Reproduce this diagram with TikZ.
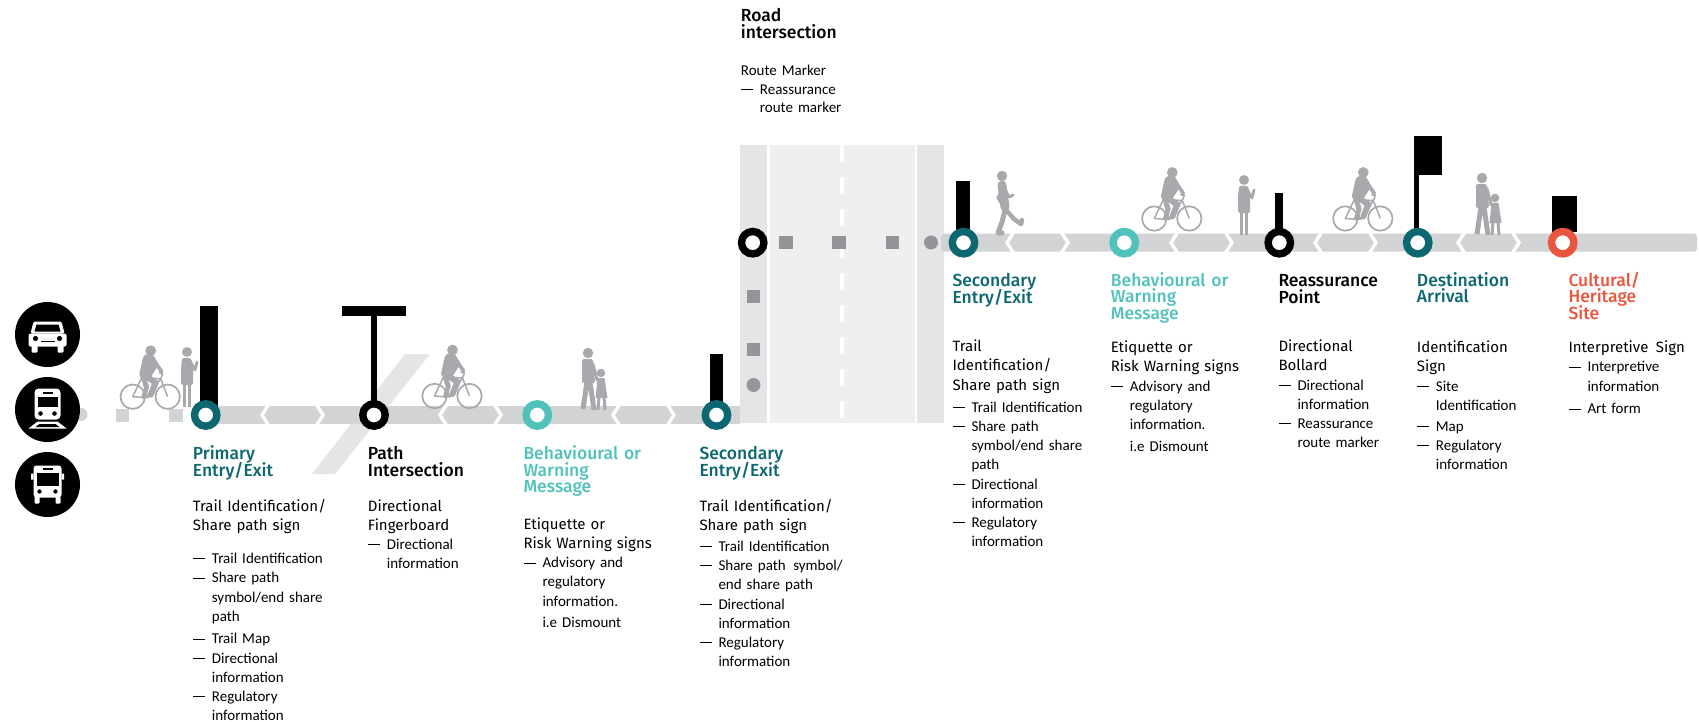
\documentclass[tikz,border=0pt]{standalone}
\usepackage{fontspec}
\setmainfont{Carlito}
\newfontfamily\headfont{Fira Sans Medium}
\newfontfamily\descfont{Fira Sans}
\usepackage{tikz}
\usepackage{xcolor}

\definecolor{trailteal}{RGB}{13,103,113}
\definecolor{trailaqua}{RGB}{80,194,187}
\definecolor{trailred}{RGB}{234,85,64}
\definecolor{pathgray}{RGB}{209,211,212}
\definecolor{roadside}{RGB}{228,229,231}
\definecolor{roadmid}{RGB}{238,239,239}
\definecolor{markgray}{RGB}{147,149,152}
\definecolor{figgray}{RGB}{167,169,172}

% lines closer than their glyphs would allow
\newcommand{\tightlines}{\lineskiplimit -20pt\relax}

\tikzstyle{trailstop}=[circle, draw=black, fill=white, line width=7.4pt, minimum size=22.4pt, inner sep=0pt]
\tikzstyle{entry}=[trailstop, draw=trailteal]
\tikzstyle{warn}=[trailstop, draw=trailaqua]
\tikzstyle{heritage}=[trailstop, draw=trailred]
\tikzstyle{band}=[draw=pathgray, line width=18pt]
\tikzstyle{chev}=[draw=white, line width=3.4pt]
\tikzstyle{roadmark}=[rectangle, fill=markgray, minimum size=13.5pt, inner sep=0pt]
\tikzstyle{roaddot}=[circle, fill=markgray, minimum size=14pt, inner sep=0pt]
\tikzstyle{trailmark}=[roadmark, fill=pathgray]
\tikzstyle{transit}=[circle, fill=black, minimum size=65pt, inner sep=0pt]
\tikzstyle{heading}=[anchor=base west, inner sep=0pt, text width=150pt, align=left, font=\headfont\fontsize{17.5}{16.7}\selectfont\tightlines]
\tikzstyle{blurb}=[anchor=base west, inner sep=0pt, text width=150pt, align=left, font=\fontsize{15}{19.2}\selectfont\tightlines]

\newcommand{\listdash}{\makebox[19pt][l]{\rule[4.3pt]{12.5pt}{0.9pt}}}
\newcommand{\listindent}{\hspace*{19pt}}
\newcommand{\signtype}[1]{{\descfont #1}}

\tikzset{
  carsym/.pic={
    \fill[white, rounded corners=2pt] (-19,-1) rectangle (19,12);
    \fill[white, rounded corners=1.5pt] (-14,-13) -- (14,-13) -- (17,-1) -- (-17,-1) -- cycle;
    \fill[black] (-11,-10) -- (11,-10) -- (13,-3) -- (-13,-3) -- cycle;
    \fill[black] (-12,4) circle (2.6pt) (12,4) circle (2.6pt);
    \fill[black] (-7,6) rectangle (7,7);
    \fill[white, rounded corners=1pt] (-16,11) rectangle (-10,18) (10,11) rectangle (16,18);
  },
  trainsym/.pic={
    \fill[white, rounded corners=4pt] (-13,-21) rectangle (13,10);
    \fill[black] (-10,-13) rectangle (10,-3);
    \fill[black] (-5,-18) rectangle (5,-16);
    \fill[black] (-7,4) circle (2.3pt) (7,4) circle (2.3pt);
    \fill[white] (-10,12) -- (10,12) -- (19,19) -- (-19,19) -- cycle;
    \fill[black] (-8,14.5) -- (8,14.5) -- (12,17.5) -- (-12,17.5) -- cycle;
  },
  bussym/.pic={
    \fill[white, rounded corners=3pt] (-14,-19) rectangle (14,13);
    \fill[black] (-11,-12) rectangle (11,1);
    \fill[black] (-5,-16.5) rectangle (5,-15);
    \fill[black] (-8,7) circle (2.2pt) (8,7) circle (2.2pt);
    \fill[white, rounded corners=1pt] (-13,12) rectangle (-8,19) (8,12) rectangle (13,19);
    \fill[white] (-16.5,-11) rectangle (-14,-5) (14,-11) rectangle (16.5,-5);
  },
  rider/.pic={
    \draw[figgray, line width=1.7pt] (0,0) circle (12.2pt) (35,0) circle (12.2pt);
    \draw[figgray, line width=1.5pt, line join=round]
      (0,0) -- (15,1) -- (9,-19) -- cycle
      (15,1) -- (28,-18) -- (9,-19)
      (28,-18) -- (35,0)
      (28,-18) -- (30,-23) -- (26,-24);
    \fill[figgray] (18,-46) circle (5.4pt);
    \fill[figgray, rounded corners=3pt] (11,-42) -- (20,-43) -- (26,-32) -- (17,-18) -- (6,-20) -- cycle;
    \draw[figgray, line width=3.6pt, line cap=round] (21,-37) -- (29,-25);
    \draw[figgray, line width=6pt, line cap=round, line join=round] (11,-22) -- (23,-14) -- (18,-2);
    \draw[figgray, line width=4.6pt, line cap=round, line join=round] (10,-21) -- (14,-10) -- (11,0);
  },
  stander/.pic={
    \fill[figgray] (0,-55) circle (5pt);
    \fill[figgray, rounded corners=1.5pt] (-5,-49) -- (4,-49) -- (6,-38) -- (6,-22) -- (-6,-22) -- (-6,-38) -- cycle;
    \draw[figgray, line width=3.4pt] (-2.5,-23) -- (-2.5,0) (2.5,-23) -- (2.5,0);
    \draw[figgray, line width=2.8pt, line cap=round, line join=round] (3,-46) -- (8,-37) -- (10,-45);
  },
  walkers/.pic={
    \fill[figgray] (0,-57) circle (5.2pt);
    \fill[figgray, rounded corners=2pt] (-6,-51) -- (5,-51) -- (7,-27) -- (-6,-27) -- cycle;
    \draw[figgray, line width=5pt, line join=round] (-1,-28) -- (-5,-1) (2,-28) -- (6,0);
    \draw[figgray, line width=3pt, line cap=round] (5,-46) -- (9,-30);
    \fill[figgray] (13,-37) circle (4.3pt);
    \fill[figgray] (9.5,-32) -- (16.5,-32) -- (19.5,-12) -- (7.5,-12) -- cycle;
    \draw[figgray, line width=3pt] (11,-13) -- (10,0) (16,-13) -- (17,0);
  },
  jogger/.pic={
    \fill[figgray] (-3,-34) circle (5.2pt);
    \draw[figgray, line width=9pt, line cap=round] (-3,-25) -- (0,-3);
    \draw[figgray, line width=5pt, line cap=round, line join=round] (0,0) -- (-3,12) -- (-7,23) -- (-3,23);
    \draw[figgray, line width=4.5pt, line cap=round, line join=round] (1,0) -- (9,9) -- (16,14) -- (17,10);
    \draw[figgray, line width=3pt, line cap=round, line join=round] (-2,-22) -- (-7,-12) -- (-3,-6);
    \draw[figgray, line width=3pt, line cap=round, line join=round] (-1,-22) -- (4,-13) -- (8,-15);
  }
}

\begin{document}
\begin{tikzpicture}[x=1pt, y=-1pt]
\useasboundingbox (0,0) rectangle (1699,722);

% road with shoulders and centre line
\fill[roadside] (740,145) rectangle (944,423);
\fill[roadmid] (770,145) rectangle (915,423);
\draw[white, line width=3pt] (768.5,145) -- (768.5,423);
\draw[white, line width=2.5pt] (916.2,145) -- (916.2,423);
\draw[white, line width=4pt, dash pattern=on 17pt off 15pt] (842,145) -- (842,423);

% crossing path at the intersection
\fill[roadside] (312,474) -- (335,474) -- (430,354) -- (405,354) -- cycle;

% trail
\fill[pathgray] (81,414.5) circle (6.5pt);
\draw[band] (205.7,415) -- (740,415);
\fill[pathgray, rounded corners=3pt] (941,233.7) rectangle (1697,251.7);

\foreach \x in {262,440,613}{
  \draw[chev] ({\x+7},404) -- (\x,415) -- ({\x+7},426);
  \draw[chev] ({\x+54},404) -- ({\x+61},415) -- ({\x+54},426);
}
\foreach \x in {1007,1171,1315,1458}{
  \draw[chev] ({\x+7},231.7) -- (\x,242.7) -- ({\x+7},253.7);
  \draw[chev] ({\x+54},231.7) -- ({\x+61},242.7) -- ({\x+54},253.7);
}

\node[trailmark] (t_1) at (122.5,415.5) {};
\node[trailmark] (t_2) at (176,415.5) {};
\foreach \x/\n in {786/1, 839/2, 892.5/3}
  \node[roadmark] (r_\n) at (\x,242.5) {};
\node[roaddot] (r_4) at (931,242.5) {};
\node[roadmark] (r_5) at (753.5,296.5) {};
\node[roadmark] (r_6) at (753.5,349.5) {};
\node[roaddot] (r_7) at (753.5,385) {};

% signs
\fill (200,306) rectangle (218,415);
\fill (371,310) rectangle (377,415);
\fill (342,306) rectangle (406,316);
\fill (710,354) rectangle (723,415);
\fill (956,181) rectangle (970,242);
\fill (1275,193) rectangle (1283,242);
\fill (1414,136) rectangle (1418.5,242);
\fill (1414,136) rectangle (1442,175);
\fill (1552,196) rectangle (1577,232);

\node[entry] (prim) at (205.7,415) {};
\node[trailstop] (isect) at (374,415) {};
\node[warn] (warn_1) at (537.3,415) {};
\node[entry] (sec_1) at (716.5,415) {};
\node[trailstop] (road) at (752.7,242.7) {};
\node[entry] (sec_2) at (963.5,242.7) {};
\node[warn] (warn_2) at (1124.3,242.7) {};
\node[trailstop] (reas) at (1279.3,242.7) {};
\node[entry] (dest) at (1417.7,242.7) {};
\node[heritage] (cult) at (1562.7,242.7) {};

% getting there
\node[transit] (car) at (47.5,334.5) {};
\node[transit] (rail) at (47.5,409.5) {};
\node[transit] (coach) at (47.5,484.5) {};
\pic at (car) {carsym};
\pic at (rail) {trainsym};
\pic at (coach) {bussym};

% people on the trail
\pic at (132.7,396.7) {rider};
\pic at (187,407) {stander};
\pic at (434.5,396) {rider};
\pic at (588,410) {walkers};
\pic at (1005,210) {jogger};
\pic at (1154.3,218.5) {rider};
\pic at (1244,235) {stander};
\pic at (1345.3,218.5) {rider};
\pic at (1482,235) {walkers};

% labels
\node[heading] (road_head) at (740.7,21.7) {Road\\intersection};
\node[blurb, font=\fontsize{15}{18.4}\selectfont] (road_text) at (740.7,76) {Route Marker\\
  \listdash Reassurance\\
  \listindent route marker};

\node[heading, text=trailteal] (prim_head) at (192.7,459.3) {Primary\\Entry/Exit};
\node[blurb] (prim_text) at (192.7,511.7) {\signtype{Trail Identification/}\\
  \signtype{Share path sign}\\[13.5pt]
  \listdash Trail Identification\\
  \listdash Share path\\
  \listindent symbol/end share\\
  \listindent path\\[3.5pt]
  \listdash Trail Map\\
  \listdash Directional\\
  \listindent information\\
  \listdash Regulatory\\
  \listindent information};

\node[heading] (isect_head) at (367.7,459.3) {Path\\Intersection};
\node[blurb] (isect_text) at (367.7,511) {\signtype{Directional}\\
  \signtype{Fingerboard}\\
  \listdash Directional\\
  \listindent information};

\node[heading, text=trailaqua] (warn_1_head) at (523.3,459.3) {Behavioural or\\Warning\\Message};
\node[blurb] (warn_1_text) at (523.3,529.3) {\signtype{Etiquette or}\\
  \signtype{Risk Warning signs}\\
  \listdash Advisory and\\
  \listindent regulatory\\
  \listindent information.\\[2.5pt]
  \listindent i.e Dismount};

\node[heading, text=trailteal] (sec_1_head) at (699.3,459.3) {Secondary\\Entry/Exit};
\node[blurb] (sec_1_text) at (699.3,511) {\signtype{Trail Identification/}\\
  \signtype{Share path sign}\\[2pt]
  \listdash Trail Identification\\
  \listdash Share path\enspace symbol/\\
  \listindent end share path\\
  \listdash Directional\\
  \listindent information\\
  \listdash Regulatory\\
  \listindent information};

\node[heading, text=trailteal] (sec_2_head) at (952.3,286.7) {Secondary\\Entry/Exit};
\node[blurb] (sec_2_text) at (952.3,351.7) {\signtype{Trail}\\
  \signtype{Identification/}\\
  \signtype{Share path sign}\\[3pt]
  \listdash Trail Identification\\
  \listdash Share path\\
  \listindent symbol/end share\\
  \listindent path\\
  \listdash Directional\\
  \listindent information\\
  \listdash Regulatory\\
  \listindent information};

\node[heading, text=trailaqua] (warn_2_head) at (1110.7,286) {Behavioural or\\Warning\\Message};
\node[blurb] (warn_2_text) at (1110.7,352.7) {\signtype{Etiquette or}\\
  \signtype{Risk Warning signs}\\
  \listdash Advisory and\\
  \listindent regulatory\\
  \listindent information.\\[2.5pt]
  \listindent i.e Dismount};

\node[heading] (reas_head) at (1278.3,286.7) {Reassurance\\Point};
\node[blurb] (reas_text) at (1278.3,351.7) {\signtype{Directional}\\
  \signtype{Bollard}\\
  \listdash Directional\\
  \listindent information\\
  \listdash Reassurance\\
  \listindent route marker};

\node[heading, text=trailteal] (dest_head) at (1416.7,286) {Destination\\Arrival};
\node[blurb] (dest_text) at (1416.7,352.7) {\signtype{Identification}\\
  \signtype{Sign}\\
  \listdash Site\\
  \listindent Identification\\[1.5pt]
  \listdash Map\\
  \listdash Regulatory\\
  \listindent information};

\node[heading, text=trailred] (cult_head) at (1568.3,286) {Cultural/\\Heritage\\Site};
\node[blurb, text width=128pt] (cult_text) at (1568.3,352.7) {\signtype{Interpretive\enspace Sign}\\
  \listdash Interpretive\\
  \listindent information\\[3.5pt]
  \listdash Art form};
\end{tikzpicture}
\end{document}
